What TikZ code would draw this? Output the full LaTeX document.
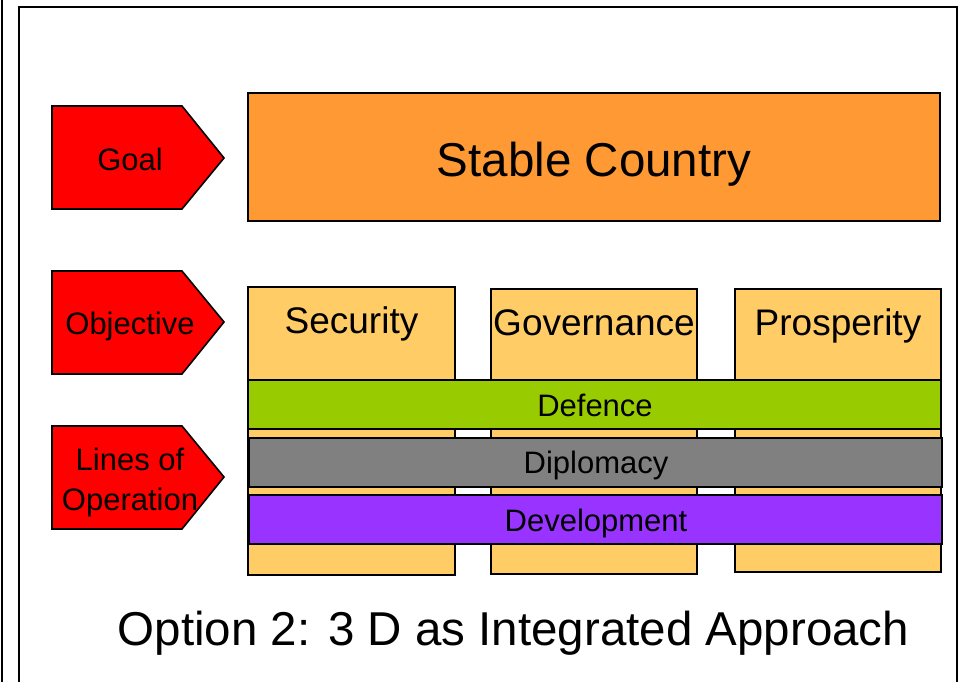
\documentclass[tikz,border=0pt]{standalone}
\usepackage{fontspec}
\setmainfont{Liberation Sans}
\definecolor{goalred}{HTML}{FF0000}
\definecolor{stableorange}{HTML}{FF9933}
\definecolor{pillar}{HTML}{FFCC66}
\definecolor{defgreen}{HTML}{99CC00}
\definecolor{dipgray}{HTML}{808080}
\definecolor{devpurple}{HTML}{9933FF}
\tikzset{
  boxshape/.style={draw=black, line width=2pt, rectangle, inner sep=0pt, outer sep=1pt, anchor=north west},
  arrowshape/.style={draw=black, line width=1.6pt, fill=goalred, line join=miter},
  lbl/.style={anchor=base, inner sep=0pt, font=\fontsize{31}{37}\selectfont},
}
\begin{document}
\begin{tikzpicture}[x=1pt,y=-1pt]
\useasboundingbox (0,0) rectangle (963,682);
\clip (0,0) rectangle (963,682);
% outer lines
\draw[line width=2pt] (1.5,-10) -- (1.5,700);
\draw[line width=2pt] (19,7.5) rectangle (957,700);
% arrows
\draw[arrowshape] (52,106) -- (182,106) -- (224,158) -- (182,209) -- (52,209) -- cycle;
\draw[arrowshape] (52,271) -- (182,271) -- (224,322) -- (182,374) -- (52,374) -- cycle;
\draw[arrowshape] (52,426) -- (182,426) -- (224,477) -- (182,529) -- (52,529) -- cycle;
\node[lbl] (goal) at (130,170) {Goal};
\node[lbl] (objective) at (130,334) {Objective};
\node[lbl] (lines) at (130,470) {Lines of};
\node[lbl] (operation) at (130,510) {Operation};
% goal box
\node[boxshape, fill=stableorange, minimum width=692pt, minimum height=128pt] (stable) at (247,92) {};
\node[anchor=base, inner sep=0pt, font=\fontsize{47.5}{56}\selectfont] (stabletxt) at (594,176) {Stable Country};
% pillars
\node[boxshape, fill=pillar, minimum width=207pt, minimum height=288pt] (security) at (247,286) {};
\node[boxshape, fill=pillar, minimum width=206pt, minimum height=285pt] (governance) at (490,288) {};
\node[boxshape, fill=pillar, minimum width=206pt, minimum height=283pt] (prosperity) at (734,288) {};
\node[anchor=base, inner sep=0pt, font=\fontsize{37}{44}\selectfont] (sectxt) at (351.5,333) {Security};
\node[anchor=base, inner sep=0pt, font=\fontsize{37}{44}\selectfont] (govtxt) at (594,335) {Governance};
\node[anchor=base, inner sep=0pt, font=\fontsize{37}{44}\selectfont] (prostxt) at (838,335) {Prosperity};
% bands
\node[boxshape, fill=defgreen, minimum width=693pt, minimum height=49pt] (defence) at (247,379) {};
\node[boxshape, fill=dipgray, minimum width=693pt, minimum height=49pt] (diplomacy) at (248,437) {};
\node[boxshape, fill=devpurple, minimum width=693pt, minimum height=49pt] (development) at (248,494) {};
\node[lbl] (deftxt) at (595,416) {Defence};
\node[lbl] (diptxt) at (596,473) {Diplomacy};
\node[lbl] (devtxt) at (596,531) {Development};
% title
\node[anchor=base, inner sep=0pt, font=\fontsize{47.5}{58}\selectfont] (title) at (513.5,645) {Option 2: 3 D as Integrated Approach};
\end{tikzpicture}
\end{document}
